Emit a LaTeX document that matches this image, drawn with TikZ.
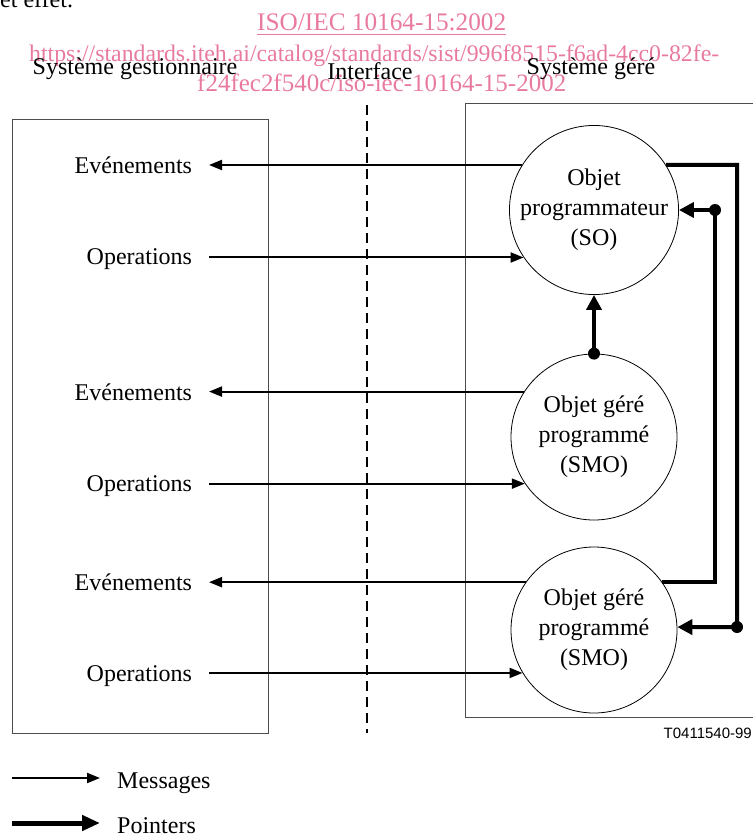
\documentclass[tikz,border=0pt]{standalone}
\usepackage{fontspec}
\setmainfont{Liberation Serif}
\setsansfont{Liberation Sans}
\usepackage{tikz}
\usetikzlibrary{positioning}
\usetikzlibrary{arrows.meta}

\definecolor{wmpink}{RGB}{232,122,158}
\newcommand\lblfont{\fontsize{24}{30}\selectfont}

\begin{document}
\begin{tikzpicture}[
    x=1pt, y=-1pt,              % pixel grid, y going down
    node distance=6mm and 17pt, % Global setup of spacing
    ]
% -------------------------------------------------
\tikzset{
  lbl/.style={font=\lblfont, inner sep=0pt},
  msglbl/.style={lbl, outer xsep=17pt, anchor=base east},
  obj/.style={draw, circle, line width=0.8pt, minimum size=166pt, inner sep=0pt, align=center, font=\lblfont},
  frame/.style={draw=black!70, line width=1pt},
  sepline/.style={draw, line width=1.3pt, dash pattern=on 10pt off 6pt},
  msg/.style={draw, line width=2pt, -{Triangle[length=13pt,width=10pt]}},
  ptr/.style={draw, line width=4pt, -{Triangle[length=15pt,width=15pt]}},
  joint/.style={circle, fill, inner sep=0pt, minimum size=12pt},
  wm/.style={text=wmpink, inner sep=0pt, anchor=base west}
}
\useasboundingbox (0,0) rectangle (752,837);
% -------------------------------------------------
% Page leftovers and watermark
\node[lbl, anchor=base west] (prev) at (0,8) {et effet.};
\node[wm] (wmiso) at (257,31) {\resizebox{249pt}{!}{\underline{ISO/IEC 10164-15:2002}}};
\node[wm] (wmurl) at (29,62) {\resizebox{690pt}{!}{\lblfont https://standards.iteh.ai/catalog/standards/sist/996f8515-f6ad-4cc0-82fe-}};
\node[wm] (wmurlb) at (197,92) {\resizebox{369pt}{!}{\lblfont f24fec2f540c/iso-iec-10164-15-2002}};

% Headers and frames
\node[lbl, anchor=base] (hmgr) at (135,75) {Système gestionnaire};
\node[lbl, anchor=base] (hif) at (370,80) {Interface};
\node[lbl, anchor=base] (hsys) at (591,75) {Système géré};

\draw[frame] (12,120) rectangle (268,733);
\draw[frame] (465,104) rectangle (753,717);
\coordinate (ifA) at (367,105);
\coordinate (ifB) at (367,733);
\path[sepline] (ifA) -- (ifB);

% Placing the nodes
\node[obj] (so) at (594,210) {Objet\\programmateur\\(SO)};
\node[obj] (smoa) at (594,437) {Objet géré\\programmé\\(SMO)};
\node[obj] (smob) at (594,630) {Objet géré\\programmé\\(SMO)};

\node[msglbl] (eva) at (209,174) {Evénements};
\node[msglbl] (opa) at (209,264) {Operations};
\node[msglbl] (evb) at (209,400) {Evénements};
\node[msglbl] (opb) at (209,491) {Operations};
\node[msglbl] (evc) at (209,590) {Evénements};
\node[msglbl] (opc) at (209,681) {Operations};

% Messages
\path[msg] (so.148) -- (so.148 -| eva.east);
\path[msg] (opa.east |- so.214) -- (so.214);
\path[msg] (smoa.147) -- (smoa.147 -| evb.east);
\path[msg] (opb.east |- smoa.214) -- (smoa.214);
\path[msg] (smob.145) -- (smob.145 -| evc.east);
\path[msg] (opc.east |- smob.211) -- (smob.211);

% Pointers
\coordinate (cA) at (715,210);
\coordinate (cB) at (737,627);
\path[ptr] (smoa.north) -- (so.south);
\path[ptr] (so.32) -| (cB) -- (smob.2);
\path[ptr] (smob.35) -| (cA) -- (so.east);
\node[joint] (ja) at (smoa.north) {};
\node[joint] (jb) at (cA) {};
\node[joint] (jc) at (cB) {};

\node[font=\sffamily\fontsize{15}{18}\selectfont, inner sep=0pt, anchor=base east] (fig) at (752,738) {T0411540-99};

% Legend
\coordinate (kmA) at (12,778);
\coordinate (kmB) at (100,778);
\coordinate (kpA) at (12,823);
\coordinate (kpB) at (100,823);
\path[msg] (kmA) -- (kmB);
\path[ptr, line width=5pt, -{Triangle[length=18pt,width=15pt]}] (kpA) -- (kpB);
\node[lbl, anchor=base west] (kmsg) at (117,788) {Messages};
\node[lbl, anchor=base west] (kptr) at (117,833) {Pointers};

\end{tikzpicture}
\end{document}
